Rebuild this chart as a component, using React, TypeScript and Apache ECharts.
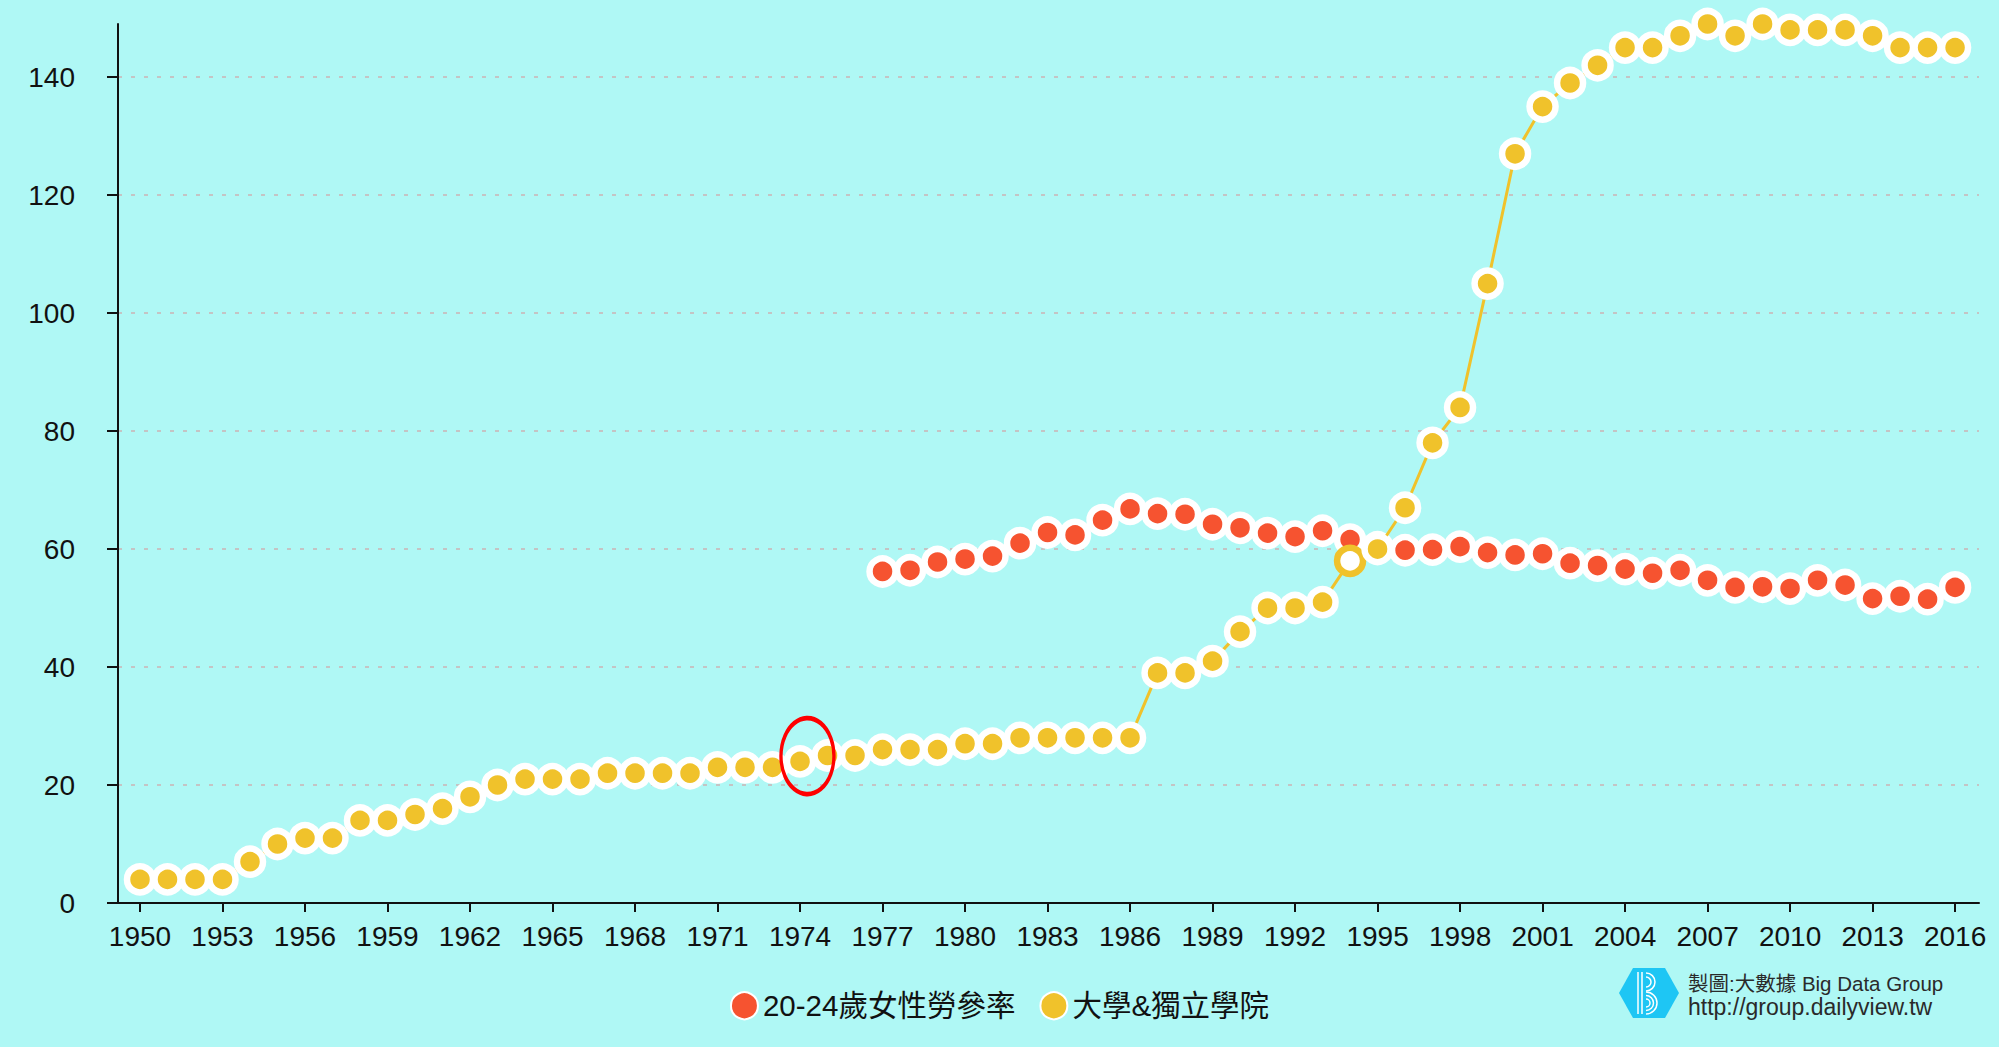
import React, { useEffect, useRef } from "react";
import * as echarts from "echarts";

const startYear = 1950;
const tickYears = [1950, 1953, 1956, 1959, 1962, 1965, 1968, 1971, 1974, 1977, 1980, 1983, 1986, 1989, 1992, 1995, 1998, 2001, 2004, 2007, 2010, 2013, 2016];

// 大學&獨立學院 (1950-2016)
const universityCounts = [
  4, 4, 4, 4, 7, 10, 11, 11, 14, 14,
  15, 16, 18, 20, 21, 21, 21, 22, 22, 22,
  22, 23, 23, 23, 24, 25, 25, 26, 26, 26,
  27, 27, 28, 28, 28, 28, 28, 39, 39, 41,
  46, 50, 50, 51, 58, 60, 67, 78, 84, 105,
  127, 135, 139, 142, 145, 145, 147, 149, 147, 149,
  148, 148, 148, 147, 145, 145, 145,
];

// 20-24歲女性勞參率 (1977-2016)
const lfprStartYear = 1977;
const femaleLfpr = [
  56.2, 56.4, 57.8, 58.3, 58.8, 61.0, 62.8, 62.4, 64.9, 66.8,
  66.0, 65.9, 64.2, 63.6, 62.7, 62.1, 63.1, 61.6, 60.3, 59.8,
  59.9, 60.4, 59.4, 59.0, 59.2, 57.6, 57.2, 56.6, 55.9, 56.4,
  54.7, 53.5, 53.6, 53.3, 54.7, 53.9, 51.6, 52.0, 51.5, 53.5,
];

const highlightYear = 1994;
const annotation = { year: 1974.27, value: 24.9 };

const RED = "#f65330";
const YELLOW = "#f0c22b";
const BG = "#aff8f5";
const FONT = "'Liberation Sans', Arial, 'Noto Sans CJK TC', sans-serif";

export default function App() {
  const ref = useRef<HTMLDivElement>(null);
  useEffect(() => {
    if (!ref.current) return;
    const chart = echarts.init(ref.current, undefined, { renderer: "svg" });

    const uniData = universityCounts.map((v, i) => {
      const year = startYear + i;
      if (year === highlightYear) {
        return {
          value: [year, v],
          itemStyle: { color: "#ffffff", borderColor: YELLOW, borderWidth: 6.5 },
        };
      }
      return { value: [year, v] };
    });
    const lfprData = femaleLfpr.map((v, i) => [lfprStartYear + i, v]);

    const arc = (cx: number, cy: number, r: number) => ({
      type: "arc",
      shape: { cx, cy, r, startAngle: -Math.PI / 2, endAngle: Math.PI / 2 },
      style: { stroke: "#fff", lineWidth: 1.5, fill: null },
      silent: true,
    });

    chart.setOption({
      animation: false,
      backgroundColor: BG,
      textStyle: { fontFamily: FONT },
      grid: { left: 118, right: 20, top: 24, bottom: 144, containLabel: false },
      legend: {
        left: "center",
        top: 986,
        icon: "circle",
        itemWidth: 27,
        itemHeight: 27,
        itemGap: 24,
        selectedMode: false,
        textStyle: { fontSize: 29.5, color: "#111", fontFamily: FONT },
        data: ["20-24歲女性勞參率", "大學&獨立學院"],
      },
      xAxis: {
        type: "value",
        min: 1949.2,
        max: 2016.87,
        splitLine: { show: false },
        axisLine: { show: true, onZero: false, lineStyle: { color: "#111", width: 2 } },
        axisTick: { show: true, customValues: tickYears, length: 9, lineStyle: { color: "#111", width: 2 } },
        axisLabel: {
          customValues: tickYears,
          formatter: (v: number) => String(v),
          fontSize: 28,
          color: "#111",
          margin: 19,
          fontFamily: FONT,
        },
      },
      yAxis: {
        type: "value",
        min: 0,
        max: 149,
        interval: 20,
        axisLine: { show: true, lineStyle: { color: "#111", width: 2 } },
        axisTick: { show: true, length: 11, lineStyle: { color: "#111", width: 2 } },
        axisLabel: {
          fontSize: 28,
          color: "#111",
          margin: 43,
          showMaxLabel: false,
          fontFamily: FONT,
        },
        splitLine: {
          show: true,
          showMinLine: false,
          showMaxLine: false,
          lineStyle: { color: "#c4c4c4", width: 2, type: [4, 9] },
        },
      },
      series: [
        {
          name: "20-24歲女性勞參率",
          type: "line",
          data: lfprData,
          symbol: "circle",
          symbolSize: 26,
          showAllSymbol: true,
          lineStyle: { color: RED, width: 3 },
          itemStyle: { color: RED, borderColor: "#ffffff", borderWidth: 6.5 },
          emphasis: { disabled: true },
          z: 2,
        },
        {
          name: "大學&獨立學院",
          type: "line",
          data: uniData,
          symbol: "circle",
          symbolSize: 26,
          showAllSymbol: true,
          lineStyle: { color: YELLOW, width: 3 },
          itemStyle: { color: YELLOW, borderColor: "#ffffff", borderWidth: 6.5 },
          emphasis: { disabled: true },
          z: 3,
          markPoint: {
            symbol: "circle",
            symbolSize: [53, 76],
            silent: true,
            label: { show: false },
            itemStyle: { color: "rgba(0,0,0,0)", borderColor: "#ff0000", borderWidth: 4 },
            data: [{ coord: [annotation.year, annotation.value] }],
          },
        },
      ],
      graphic: [
        {
          type: "polygon",
          shape: {
            points: [
              [1619, 993], [1633, 968], [1665, 968], [1679, 993], [1665, 1018], [1633, 1018],
            ],
          },
          style: { fill: "#1ec6f4" },
          silent: true,
        },
        { type: "line", shape: { x1: 1638, y1: 972, x2: 1638, y2: 1014 }, style: { stroke: "#fff", lineWidth: 1.5 }, silent: true },
        { type: "line", shape: { x1: 1642, y1: 972, x2: 1642, y2: 1014 }, style: { stroke: "#fff", lineWidth: 1.5 }, silent: true },
        arc(1646, 982, 9),
        arc(1646, 982, 5),
        arc(1646, 1003, 11),
        arc(1646, 1003, 7.5),
        arc(1646, 1003, 4),
        {
          type: "text",
          x: 1688,
          y: 983,
          silent: true,
          style: {
            text: "製圖:大數據 Big Data Group",
            fill: "#2a2a2a",
            fontSize: 20.5,
            fontFamily: FONT,
            verticalAlign: "middle",
            align: "left",
          },
        },
        {
          type: "text",
          x: 1688,
          y: 1007,
          silent: true,
          style: {
            text: "http://group.dailyview.tw",
            fill: "#2a2a2a",
            fontSize: 23,
            fontFamily: FONT,
            verticalAlign: "middle",
            align: "left",
          },
        },
      ],
    });

    return () => chart.dispose();
  }, []);

  return (
    <div
      ref={ref}
      style={{ position: "fixed", left: 0, top: 0, width: 1999, height: 1047 }}
    />
  );
}
